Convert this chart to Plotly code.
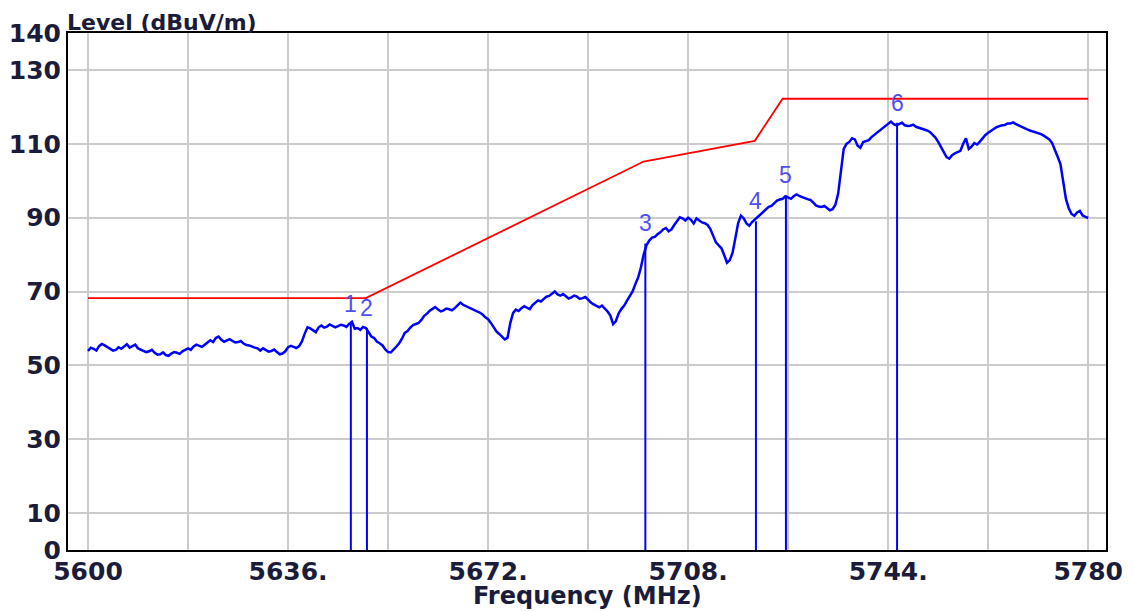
import plotly.graph_objects as go

# ---------------- data ----------------
freq_start = 5600
# level read at every whole MHz (5600 ... 5780)
level = [
    53.9, 54.5, 55.2, 55.4, 54.6, 54.2, 54.5, 55.7, 55.2, 54.6,
    54.0, 53.8, 53.4, 53.0, 52.8, 53.2, 53.4, 53.8, 54.6, 55.1,
    55.2, 55.6, 56.8, 57.4, 56.9, 56.8, 56.6, 56.3, 55.9, 55.4,
    54.8, 54.0, 54.2, 53.9, 53.6, 53.2, 54.9, 55.0, 55.2, 58.6,
    60.0, 59.0, 60.8, 60.5, 60.8, 60.6, 60.8, 61.2, 59.9, 59.6,
    60.1, 57.8, 56.4, 55.4, 53.6, 54.2, 56.0, 58.8, 60.2, 61.2,
    62.3, 64.0, 65.3, 65.1, 64.9, 65.2, 65.5, 67.0, 66.0, 65.2,
    64.6, 63.8, 62.5, 60.3, 58.5, 57.0, 61.5, 65.1, 65.5, 65.6,
    66.3, 67.6, 68.0, 68.8, 70.0, 68.9, 68.6, 68.4, 68.6, 68.2,
    67.8, 66.5, 65.7, 65.5, 63.5, 62.0, 65.3, 67.5, 70.0, 73.8,
    80.0, 83.8, 84.8, 86.0, 87.2, 86.8, 89.2, 89.8, 90.0, 88.4,
    89.2, 88.5, 86.9, 83.3, 81.7, 77.8, 80.5, 88.5, 89.8, 87.8,
    89.5, 90.8, 92.4, 93.2, 94.6, 95.1, 95.4, 95.8, 95.9, 95.3,
    94.8, 93.3, 92.9, 92.7, 92.3, 96.5, 108.6, 110.5, 111.2, 108.9,
    110.8, 111.8, 112.8, 114.0, 115.4, 115.3, 115.4, 115.0, 114.9, 114.6,
    114.2, 113.6, 112.5, 110.5, 107.8, 106.0, 107.4, 108.1, 111.5, 109.2,
    109.8, 111.6, 113.0, 114.0, 114.8, 115.1, 115.5, 115.3, 114.6, 113.9,
    113.4, 112.9, 112.2, 111.2, 108.5, 104.5, 95.0, 91.0, 91.4, 90.6,
    89.9,
]
# level read at every half MHz (5600.5 ... 5779.5)
level_half = [
    54.8, 54.0, 55.8, 54.9, 54.0, 54.9, 55.0, 54.8, 55.6, 54.2,
    53.6, 54.2, 52.9, 53.5, 52.6, 53.6, 53.1, 54.3, 54.2, 55.6,
    55.0, 56.2, 56.3, 57.8, 56.4, 57.1, 56.2, 56.6, 55.5, 55.0,
    54.6, 54.6, 53.7, 54.3, 53.0, 53.8, 55.3, 54.7, 56.5, 60.3,
    59.4, 60.3, 60.2, 61.1, 60.3, 61.0, 60.4, 61.8, 60.1, 60.4,
    59.0, 57.4, 56.0, 54.3, 53.5, 55.1, 57.2, 59.3, 60.9, 61.5,
    63.4, 64.8, 65.8, 64.6, 65.4, 64.9, 66.4, 66.4, 65.8, 64.9,
    64.3, 63.0, 61.5, 59.2, 57.8, 57.5, 64.2, 64.7, 66.0, 65.2,
    67.0, 67.3, 68.6, 69.4, 69.2, 69.3, 68.1, 68.9, 68.0, 68.5,
    67.0, 66.1, 66.2, 64.6, 61.2, 64.1, 66.2, 68.7, 72.0, 76.5,
    82.5, 84.6, 85.5, 86.8, 86.3, 88.0, 90.1, 89.2, 89.4, 89.8,
    88.7, 88.0, 85.0, 82.5, 79.8, 78.5, 84.5, 90.5, 88.4, 88.8,
    90.2, 91.5, 92.9, 94.0, 94.9, 95.8, 95.1, 96.3, 95.7, 95.0,
    94.1, 93.0, 93.2, 92.0, 93.5, 102.7, 110.0, 111.5, 109.5, 110.5,
    111.0, 112.4, 113.5, 114.8, 116.0, 115.0, 115.7, 114.8, 115.2, 114.4,
    113.9, 113.2, 111.7, 109.0, 106.4, 106.9, 107.8, 110.0, 108.6, 110.2,
    110.6, 112.4, 113.6, 114.5, 115.0, 115.5, 115.8, 114.9, 114.3, 113.6,
    113.1, 112.6, 111.8, 110.2, 106.5, 99.5, 92.5, 90.5, 91.8, 90.2,
]

limit_freq = [5600, 5650, 5700, 5720, 5725, 5780]
limit_level = [68.2, 68.2, 105.2, 110.8, 122.2, 122.2]

marker_names = ["1", "2", "3", "4", "5", "6"]
marker_freq = [5647.3, 5650.2, 5700.3, 5720.2, 5725.6, 5745.6]
marker_level = [61.2, 60.1, 83.0, 89.0, 96.0, 115.7]

x_tickvals = [5600, 5618, 5636, 5654, 5672, 5690, 5708, 5726, 5744, 5762, 5780]
x_ticktext = ["5600", "", "5636.", "", "5672.", "", "5708.", "", "5744.", "", "5780"]
y_tickvals = [0, 10, 30, 50, 70, 90, 110, 130, 140]
y_ticktext = ["0", "10", "30", "50", "70", "90", "110", "130", "140"]

# merge whole-MHz and half-MHz readings into one sweep
freq, lev = [], []
for i, v in enumerate(level):
    freq.append(freq_start + i)
    lev.append(v)
    if i < len(level_half):
        freq.append(freq_start + i + 0.5)
        lev.append(level_half[i])

# ---------------- figure ----------------
TXT = "#1b1b3a"
tickfont = dict(family="DejaVu Sans", size=25, color=TXT, weight="bold")

fig = go.Figure()

fig.add_trace(go.Scatter(x=limit_freq, y=limit_level, mode="lines",
                         line=dict(color="#ff0000", width=1.8),
                         hoverinfo="skip", showlegend=False))

fig.add_trace(go.Scatter(x=freq, y=lev, mode="lines",
                         line=dict(color="#0000ff", width=2.5),
                         showlegend=False))

mx, my = [], []
for f, v in zip(marker_freq, marker_level):
    mx += [f, f, None]
    my += [0, v, None]
fig.add_trace(go.Scatter(x=mx, y=my, mode="lines",
                         line=dict(color="#0000ff", width=2),
                         hoverinfo="skip", showlegend=False))

for n, f, v in zip(marker_names, marker_freq, marker_level):
    fig.add_annotation(x=f, y=v, text=n, showarrow=False,
                       xanchor="center", yanchor="bottom", yshift=5,
                       font=dict(family="Liberation Sans", size=23, color="#5050ee"))

fig.add_annotation(xref="paper", yref="paper", x=0, y=1, xanchor="left",
                   yanchor="top", yshift=25, xshift=-3, showarrow=False,
                   text="Level (dBuV/m)",
                   font=dict(family="DejaVu Sans", size=22, color=TXT, weight="bold"))
fig.add_annotation(xref="paper", yref="paper", x=0.5, y=0, xanchor="center",
                   yanchor="middle", yshift=-46, showarrow=False,
                   text="Frequency (MHz)",
                   font=dict(family="DejaVu Sans", size=24, color=TXT, weight="bold"))

fig.update_xaxes(range=[5596.4, 5783.2], tickvals=x_tickvals, ticktext=x_ticktext,
                 showgrid=True, gridcolor="#cccccc", gridwidth=2,
                 showline=True, linecolor="black", linewidth=2, mirror=True,
                 ticks="", tickfont=tickfont, zeroline=False, automargin=False,
                 ticklabelstandoff=-2)
fig.update_yaxes(range=[0, 140], tickvals=y_tickvals, ticktext=y_ticktext,
                 showgrid=True, gridcolor="#cccccc", gridwidth=2,
                 showline=True, linecolor="black", linewidth=2, mirror=True,
                 ticks="", tickfont=tickfont, zeroline=False, automargin=False)

# the page body adds an 8px margin, so the figure is sized to compensate
fig.update_layout(width=1126, height=603, plot_bgcolor="white", paper_bgcolor="white",
                  margin=dict(l=60, r=28, t=25, b=61), showlegend=False)

fig.write_html("out.html")
